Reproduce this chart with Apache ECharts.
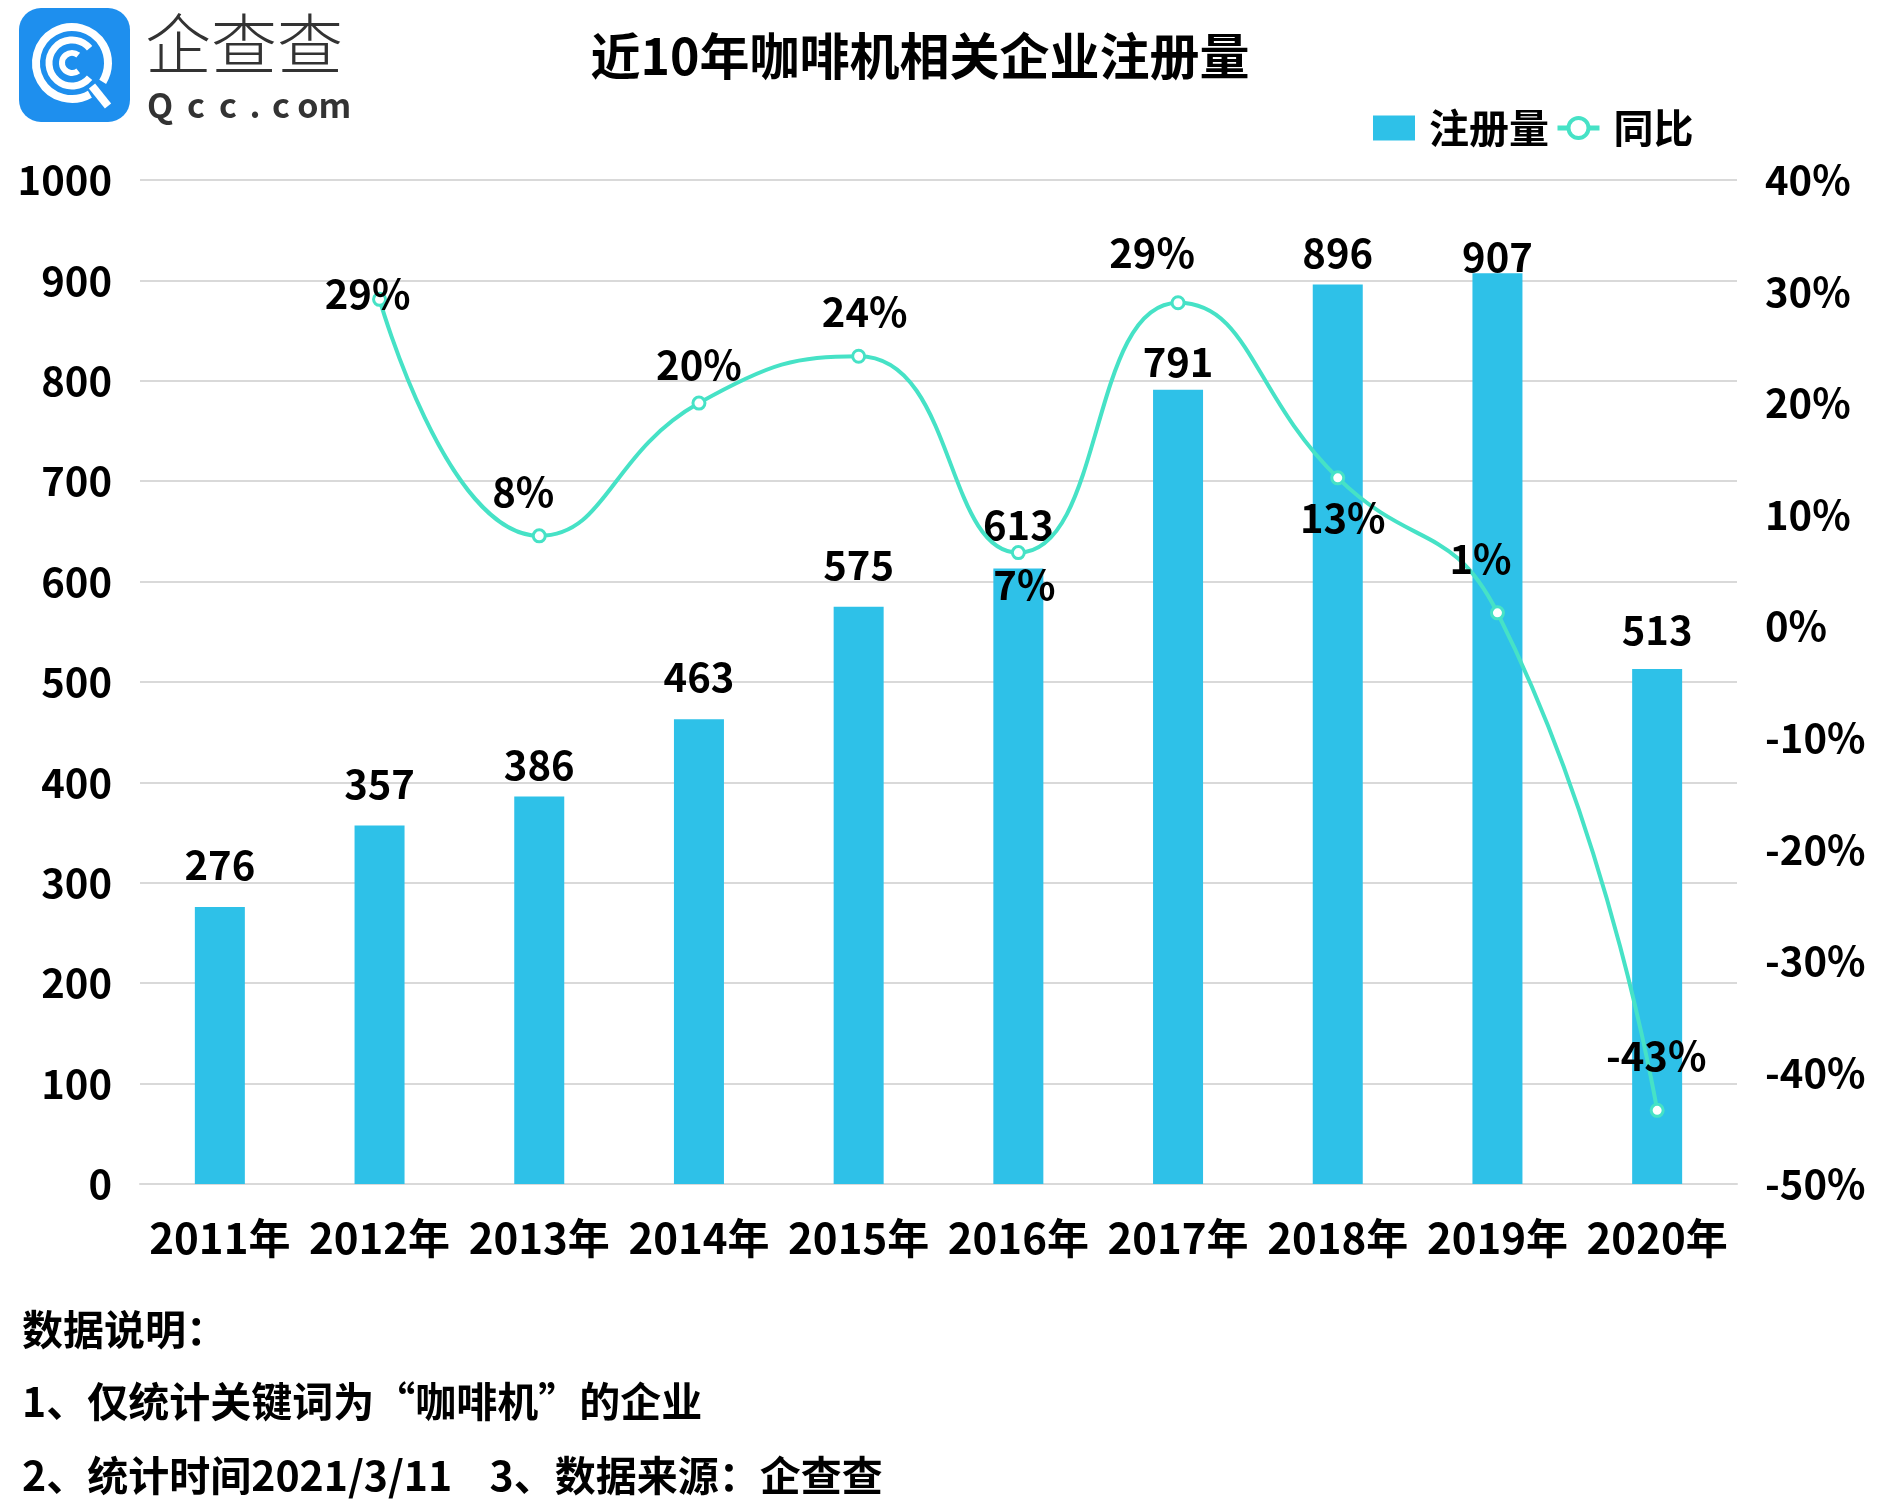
<!DOCTYPE html>
<html>
<head>
<meta charset="utf-8">
<script src="https://cdn.jsdelivr.net/npm/echarts@6/dist/echarts.min.js"></script>
<style>
html,body{margin:0;padding:0;background:#fff;}
#chart{width:1883px;height:1508px;}
</style>
</head>
<body>
<div id="chart"></div>
<script>
// ---- data ----
const categories = ['2011年','2012年','2013年','2014年','2015年','2016年','2017年','2018年','2019年','2020年'];
const registrations = [276, 357, 386, 463, 575, 613, 791, 896, 907, 513];
const yoyGrowth = [null, 0.293, 0.081, 0.200, 0.242, 0.066, 0.290, 0.133, 0.012, -0.434];
const leftAxisTicks = { min: 0, max: 1000, interval: 100 };
const rightAxisTicks = { min: -0.5, max: 0.4, interval: 0.1 };
const titleText = '近10年咖啡机相关企业注册量';
const legendNames = ['注册量', '同比'];
const noteLines = ['数据说明：', '1、仅统计关键词为“咖啡机”的企业', '2、统计时间2021/3/11    3、数据来源：企查查'];

// ---- label placement (styling) ----
const barLabelShift = [0, 0, 10, 0, 0, -2, 14, 10, 25, 3];
const yoyLabelShift = [[0,0],[-12,-6],[-16,-44],[0,-38],[6,-44],[6,32],[-26,-50],[5,40],[-17,-54],[-1,-55]];

const FONT = '"Noto Sans CJK SC", "Noto Sans", sans-serif';
const BAR_COLOR = '#2EC1E8';
const LINE_COLOR = '#46E2C6';

const chart = echarts.init(document.getElementById('chart'), null, {renderer: 'canvas'});

const barData = registrations.map((v, i) => ({
  value: v,
  label: { offset: [0, barLabelShift[i]] }
}));
const lineData = yoyGrowth.map((v, i) => ({
  value: v,
  label: { offset: yoyLabelShift[i] }
}));

const pct = v => Math.round(v * 100) + '%';

const logoChars = 'Qcc.com'.split('');
const logoCharX = [160, 196, 228, 255, 281, 308, 335];

const graphics = [
  { type: 'rect', shape: { x: 19, y: 8, width: 111, height: 114, r: 22 }, style: { fill: '#1E8FEE' } },
  { type: 'arc', shape: { cx: 72, cy: 63, r: 36, startAngle: 1.05, endAngle: 0.55 + Math.PI * 2, clockwise: true }, style: { stroke: '#fff', lineWidth: 8, fill: null } },
  { type: 'line', shape: { x1: 92, y1: 86, x2: 108, y2: 106 }, style: { stroke: '#fff', lineWidth: 8 } },
  { type: 'arc', shape: { cx: 72, cy: 63, r: 23, startAngle: 0.7, endAngle: Math.PI * 2 - 0.7, clockwise: true }, style: { stroke: '#fff', lineWidth: 7, fill: null } },
  { type: 'arc', shape: { cx: 72, cy: 63, r: 10, startAngle: 0.9, endAngle: Math.PI * 2 - 0.9, clockwise: true }, style: { stroke: '#fff', lineWidth: 6, fill: null } },
  { type: 'text', x: 145, y: 44, style: { text: '企查查', font: '300 66px ' + FONT, fill: '#333', textAlign: 'left', textVerticalAlign: 'middle' } },
  { type: 'text', x: 920, y: 56, style: { text: titleText, font: 'bold 50px ' + FONT, fill: '#000', textAlign: 'center', textVerticalAlign: 'middle' } },
  { type: 'text', x: 22, y: 1329, style: { text: noteLines[0], font: 'bold 41px ' + FONT, fill: '#000', textAlign: 'left', textVerticalAlign: 'middle' } },
  { type: 'text', x: 22, y: 1401, style: { text: noteLines[1], font: 'bold 41px ' + FONT, fill: '#000', textAlign: 'left', textVerticalAlign: 'middle' } },
  { type: 'text', x: 22, y: 1475, style: { text: noteLines[2], font: 'bold 41px ' + FONT, fill: '#000', textAlign: 'left', textVerticalAlign: 'middle' } }
];
logoChars.forEach((c, i) => {
  graphics.push({ type: 'text', x: logoCharX[i], y: 105, style: { text: c, font: 'bold 34px ' + FONT, fill: '#333', textAlign: 'center', textVerticalAlign: 'middle' } });
});

const option = {
  backgroundColor: '#fff',
  animation: false,
  textStyle: { fontFamily: FONT },
  graphic: graphics,
  legend: {
    data: [
      { name: legendNames[0], icon: 'rect' },
      { name: legendNames[1], lineStyle: { width: 5, color: LINE_COLOR }, itemStyle: { color: '#fff', borderColor: LINE_COLOR, borderWidth: 4 } }
    ],
    left: 1368,
    top: 103,
    itemWidth: 42,
    itemHeight: 25,
    itemGap: 6,
    textStyle: { fontFamily: FONT, fontSize: 40, fontWeight: 'bold', color: '#000', padding: [0, 0, 0, 9] }
  },
  grid: { left: 140, right: 146, top: 180, bottom: 324, containLabel: false },
  xAxis: {
    type: 'category',
    data: categories,
    axisLine: { show: true, lineStyle: { color: '#d9d9d9', width: 2 } },
    axisTick: { show: false },
    axisLabel: { fontFamily: FONT, fontSize: 42, fontWeight: 'bold', color: '#000', margin: 33, interval: 0 }
  },
  yAxis: [
    {
      type: 'value',
      min: leftAxisTicks.min, max: leftAxisTicks.max, interval: leftAxisTicks.interval,
      axisLine: { show: false }, axisTick: { show: false },
      splitLine: { lineStyle: { color: '#d9d9d9', width: 2 } },
      axisLabel: { fontFamily: FONT, fontSize: 40, fontWeight: 'bold', color: '#000', margin: 28, formatter: v => String(v) }
    },
    {
      type: 'value',
      min: rightAxisTicks.min, max: rightAxisTicks.max, interval: rightAxisTicks.interval,
      axisLine: { show: false }, axisTick: { show: false },
      splitLine: { show: false },
      axisLabel: { fontFamily: FONT, fontSize: 40, fontWeight: 'bold', color: '#000', margin: 28, formatter: pct }
    }
  ],
  series: [
    {
      name: legendNames[0],
      type: 'bar',
      data: barData,
      barWidth: 50,
      itemStyle: { color: BAR_COLOR },
      label: { show: true, position: 'top', distance: 22, fontFamily: FONT, fontSize: 40, fontWeight: 'bold', color: '#000' },
      z: 2
    },
    {
      name: legendNames[1],
      type: 'line',
      yAxisIndex: 1,
      data: lineData,
      smooth: 0.5,
      symbol: 'circle',
      symbolSize: 12,
      lineStyle: { color: LINE_COLOR, width: 4 },
      itemStyle: { color: '#fff', borderColor: LINE_COLOR, borderWidth: 3 },
      label: { show: true, position: 'inside', fontFamily: FONT, fontSize: 40, fontWeight: 'bold', color: '#000', formatter: p => pct(p.value) },
      z: 5
    }
  ]
};
chart.setOption(option);
</script>
</body>
</html>
